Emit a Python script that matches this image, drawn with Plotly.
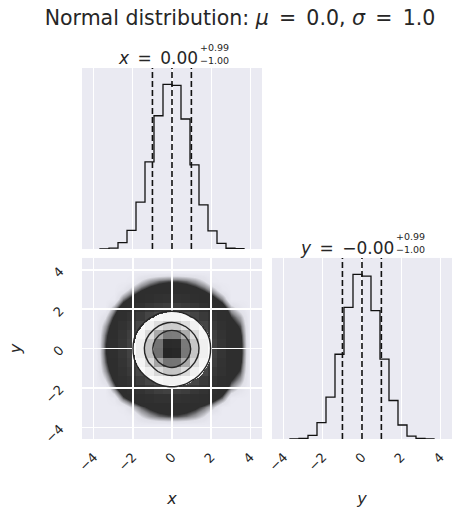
import numpy as np
import plotly.graph_objects as go

# bin edges shared by both parameters
bin_edges = [-4.6, -4.14, -3.68, -3.22, -2.76, -2.3, -1.84, -1.38, -0.92, -0.46, 0.0,
             0.46, 0.92, 1.38, 1.84, 2.3, 2.76, 3.22, 3.68, 4.14, 4.6]

# relative histogram heights
x_counts = [0, 0, 0.001, 0.006, 0.039, 0.114, 0.285, 0.53, 0.81, 1.0,
            0.995, 0.79, 0.512, 0.268, 0.110, 0.035, 0.005, 0.002, 0, 0]
y_counts = [0, 0, 0.001, 0.003, 0.022, 0.100, 0.255, 0.515, 0.80, 1.0,
            0.99, 0.78, 0.485, 0.234, 0.085, 0.018, 0.004, 0.001, 0, 0]

# 16/50/84 percentiles
x_quantiles = [-1.00, 0.00, 0.99]
y_quantiles = [-1.00, 0.00, 0.99]

tick_vals = [-4, -2, 0, 2, 4]
tick_text = ["\u22124", "\u22122", "0", "2", "4"]
sigma_levels = [1.0, 1.5, 2.0]

INK = "#262626"
BG = "#EAEAF2"
FONT = "DejaVu Sans"
SP = "\u2002"
axis_range = [bin_edges[0], bin_edges[-1]]


def step_xy(edges, counts):
    nz = [i for i, c in enumerate(counts) if c > 0]
    a, b = nz[0], nz[-1]
    xs, ys = [edges[a]], [0]
    for i in range(a, b + 1):
        xs += [edges[i], edges[i + 1]]
        ys += [counts[i], counts[i]]
    xs.append(edges[b + 1])
    ys.append(0)
    return xs, ys


edges = np.array(bin_edges)
centers = (edges[:-1] + edges[1:]) / 2
H = np.outer(y_counts, x_counts)
Hn = H / H.max()

# corner-style density thresholds enclosing the sigma levels
Hflat = np.sort(Hn.flatten())[::-1]
sm = np.cumsum(Hflat)
sm /= sm[-1]
V = []
for s in sigma_levels:
    frac = 1 - np.exp(-0.5 * s ** 2)
    V.append(Hflat[sm <= frac][-1])
V = sorted(V)

fig = go.Figure()

# 1D histograms
for cnt, q, xa, ya in [(x_counts, x_quantiles, "x", "y"), (y_counts, y_quantiles, "x3", "y3")]:
    sx, sy = step_xy(bin_edges, cnt)
    fig.add_trace(go.Scatter(x=sx, y=sy, mode="lines", xaxis=xa, yaxis=ya,
                             line=dict(color="#111111", width=1.3), hoverinfo="skip"))
    top = 1.1 * max(cnt)
    for v in q:
        fig.add_trace(go.Scatter(x=[v, v], y=[0, top], mode="lines", xaxis=xa, yaxis=ya,
                                 line=dict(color="#111111", width=1.6, dash="6px,3px"),
                                 hoverinfo="skip"))

# point cloud (as a saturated density image)
fig.add_trace(go.Heatmap(
    x=centers, y=centers, z=np.log10(np.maximum(H, 1e-4)), xaxis="x2", yaxis="y2",
    zmin=-4, zmax=0, zsmooth="best", showscale=False, hoverinfo="skip",
    colorscale=[[0, "rgba(46,46,46,0)"], [0.1, "rgba(46,46,46,0.05)"],
                [0.2, "rgba(46,46,46,0.5)"], [0.27, "rgba(46,46,46,1)"],
                [1, "rgba(46,46,46,1)"]]))

# white grid lines above the points (heatmaps stack in trace order)
hw = 0.035
g_edges = [axis_range[0]]
for t in tick_vals:
    g_edges += [t - hw, t + hw]
g_edges.append(axis_range[1])
band = [i % 2 == 1 for i in range(len(g_edges) - 1)]
g_z = [[1 if (bi or bj) else 0 for bj in band] for bi in band]
fig.add_trace(go.Heatmap(
    x=g_edges, y=g_edges, z=g_z, xaxis="x2", yaxis="y2", zmin=0, zmax=1,
    showscale=False, hoverinfo="skip",
    colorscale=[[0, "rgba(255,255,255,0)"], [1, "rgba(255,255,255,1)"]]))

# white base fill inside the outermost contour
p0 = float(V[0])
fig.add_trace(go.Heatmap(
    x=centers, y=centers, z=Hn, xaxis="x2", yaxis="y2", zmin=0, zmax=1, zsmooth="best",
    showscale=False, hoverinfo="skip",
    colorscale=[[0, "rgba(255,255,255,0)"], [p0 - 1e-6, "rgba(255,255,255,0)"],
                [p0, "rgba(255,255,255,1)"], [1, "rgba(255,255,255,1)"]]))

# density squares
fig.add_trace(go.Heatmap(
    x=centers, y=centers, z=Hn, xaxis="x2", yaxis="y2", zmin=0, zmax=1,
    showscale=False, hoverinfo="skip",
    colorscale=[[0, "rgba(255,255,255,0)"], [1, "rgba(38,38,38,1)"]]))

# contour lines
for v in V:
    fig.add_trace(go.Contour(
        x=centers, y=centers, z=Hn, xaxis="x2", yaxis="y2", showscale=False,
        hoverinfo="skip", autocontour=False,
        contours=dict(start=v, end=v, size=1, coloring="none"),
        line=dict(color=INK, width=1.4, smoothing=1.0)))

tickfont = dict(family=FONT, size=13, color=INK)
common = dict(range=axis_range, tickvals=tick_vals, ticktext=tick_text, zeroline=False,
              showline=False, ticks="", gridcolor="white", gridwidth=1.2, tickangle=-45,
              automargin=False)
hist_y = dict(showticklabels=False, showgrid=False, zeroline=False, ticks="", automargin=False)
title_font = dict(size=16, color=INK, family=FONT)

fig.update_layout(
    width=463, height=522, showlegend=False,
    paper_bgcolor="white", plot_bgcolor=BG,
    margin=dict(l=82, r=11, t=68, b=83),
    font=dict(family=FONT, color=INK),
    title=dict(text=f"Normal distribution: <i>\u03bc</i>{SP}={SP}0.0, <i>\u03c3</i>{SP}={SP}1.0",
               x=240 / 463, xanchor="center", y=1 - 18 / 522, yanchor="middle",
               font=dict(size=20.5, color=INK, family=FONT)),
    xaxis=dict(domain=[0, 0.4865], anchor="y", showticklabels=False, **common),
    yaxis=dict(domain=[0.512, 1], anchor="x", range=[0, 1.1 * max(x_counts)], **hist_y),
    xaxis2=dict(domain=[0, 0.4865], anchor="y2", tickfont=tickfont, showgrid=False,
                ticklabelstandoff=7,
                title=dict(text="<i>x</i>", font=title_font, standoff=20), **common),
    yaxis2=dict(domain=[0, 0.488], anchor="x2", tickfont=tickfont, showgrid=False,
                ticklabelstandoff=21,
                title=dict(text="<i>y</i>", font=title_font, standoff=16), **common),
    xaxis3=dict(domain=[0.5135, 1], anchor="y3", tickfont=tickfont, ticklabelstandoff=7,
                title=dict(text="<i>y</i>", font=title_font, standoff=20), **common),
    yaxis3=dict(domain=[0, 0.488], anchor="x3", range=[0, 1.1 * max(y_counts)], **hist_y),
)

# panel titles with stacked uncertainties
for lab, q, xd, yd, xr in [("x", x_quantiles, "x domain", "y domain", 0.655),
                           ("y", y_quantiles, "x3 domain", "y3 domain", 0.69)]:
    med = "\u22120.00" if lab == "y" else f"{q[1]:.2f}"
    fig.add_annotation(xref=xd, yref=yd, x=xr, y=1, xanchor="right", yanchor="middle",
                       yshift=10, showarrow=False, text=f"<i>{lab}</i>{SP}={SP}{med}",
                       font=dict(size=17, color=INK, family=FONT))
    fig.add_annotation(xref=xd, yref=yd, x=xr - 0.01, y=1, xanchor="left", yanchor="middle",
                       yshift=21, showarrow=False, text=f"+{q[2] - q[1]:.2f}",
                       font=dict(size=9.5, color=INK, family=FONT))
    fig.add_annotation(xref=xd, yref=yd, x=xr - 0.01, y=1, xanchor="left", yanchor="middle",
                       yshift=8, showarrow=False, text=f"\u2212{q[1] - q[0]:.2f}",
                       font=dict(size=9.5, color=INK, family=FONT))

fig.write_html("out.html", config={"displayModeBar": False},
               post_script="document.body.style.margin='0px';")
